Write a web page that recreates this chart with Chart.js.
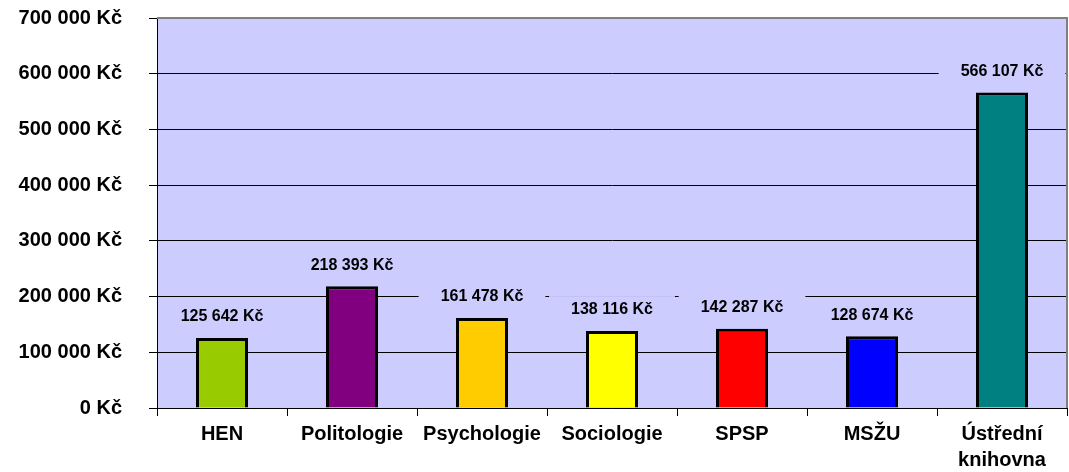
<!DOCTYPE html>
<html>
<head>
<meta charset="utf-8">
<script src="https://cdn.jsdelivr.net/npm/chart.js@4.4.0/dist/chart.umd.min.js"></script>
<style>
  html, body { margin: 0; padding: 0; background: #fff; }
  #wrap { width: 1069px; height: 472px; }
</style>
</head>
<body>
<div id="wrap"><canvas id="myChart" width="1069" height="472"></canvas></div>
<script>
// data
const labels = ['HEN', 'Politologie', 'Psychologie', 'Sociologie', 'SPSP', 'MSŽU', ['Ústřední', 'knihovna']];
const values = [125642, 218393, 161478, 138116, 142287, 128674, 566107];
const barColors = ['#99CC00', '#800080', '#FFCC00', '#FFFF00', '#FF0000', '#0000FF', '#008080'];
const yMin = 0, yMax = 700000, yStep = 100000;

const font = "Arial, 'Liberation Sans', sans-serif";
const plotBg = '#CCCCFF';

function kc(v) {
  return String(Math.round(v)).replace(/\B(?=(\d{3})+(?!\d))/g, ' ') + ' Kč';
}

// plot background + grey top/right border
const plotArea = {
  id: 'plotArea',
  beforeDraw(chart) {
    const a = chart.chartArea, c = chart.ctx;
    c.save();
    c.fillStyle = plotBg;
    c.fillRect(a.left, a.top, a.right - a.left, a.bottom - a.top);
    c.restore();
  },
  afterDraw(chart) {
    const a = chart.chartArea, c = chart.ctx;
    c.save();
    c.strokeStyle = '#808080';
    c.lineWidth = 2;
    c.beginPath();
    c.moveTo(a.left, a.top);
    c.lineTo(a.right, a.top);
    c.lineTo(a.right, a.bottom);
    c.stroke();
    c.restore();
  }
};

// value labels with a box in plot colour (hides gridlines behind them)
const valueLabels = {
  id: 'valueLabels',
  afterDatasetsDraw(chart) {
    const c = chart.ctx;
    const meta = chart.getDatasetMeta(0);
    c.save();
    c.font = 'bold 16px ' + font;
    c.textAlign = 'center';
    c.textBaseline = 'middle';
    meta.data.forEach((bar, i) => {
      const txt = kc(values[i]);
      const w = c.measureText(txt).width + 44;
      const h = 28;
      const y = bar.y - 21;
      c.fillStyle = plotBg;
      c.fillRect(bar.x - w / 2, y - h / 2, w, h);
      c.fillStyle = '#000';
      c.fillText(txt, bar.x, y);
    });
    c.restore();
  }
};

const ctx = document.getElementById('myChart');
const myChart = new Chart(ctx, {
  type: 'bar',
  data: {
    labels: labels,
    datasets: [{
      data: values,
      backgroundColor: barColors,
      borderColor: '#000',
      borderWidth: 3,
      barPercentage: 0.4,
      categoryPercentage: 1
    }]
  },
  options: {
    responsive: false,
    animation: false,
    layout: { padding: { top: 18, right: 2, left: 0, bottom: 0 } },
    plugins: { legend: { display: false }, tooltip: { enabled: false } },
    scales: {
      x: {
        offset: true,
        grid: { offset: true, drawOnChartArea: false, tickLength: 8, color: '#000', tickColor: '#000' },
        border: { color: '#000', width: 1 },
        ticks: {
          color: '#000',
          padding: 5,
          maxRotation: 0,
          autoSkip: false,
          font: { family: font, size: 20, weight: 'bold', lineHeight: 1.3 }
        },
        afterFit(scale) { scale.height = 64; }
      },
      y: {
        min: yMin,
        max: yMax,
        grid: {
          color: c => (c.tick && c.tick.value === yMax) ? '#808080' : '#000',
          tickColor: '#000',
          tickLength: 8,
          lineWidth: 1
        },
        border: { color: '#000', width: 1 },
        ticks: {
          stepSize: yStep,
          color: '#000',
          padding: 27,
          font: { family: font, size: 20, weight: 'bold' },
          callback: v => kc(v)
        },
        afterFit(scale) {
          scale.width = 157;
          scale.paddingTop = 0;
          scale.paddingBottom = 0;
        }
      }
    }
  },
  plugins: [plotArea, valueLabels]
});
</script>
</body>
</html>
